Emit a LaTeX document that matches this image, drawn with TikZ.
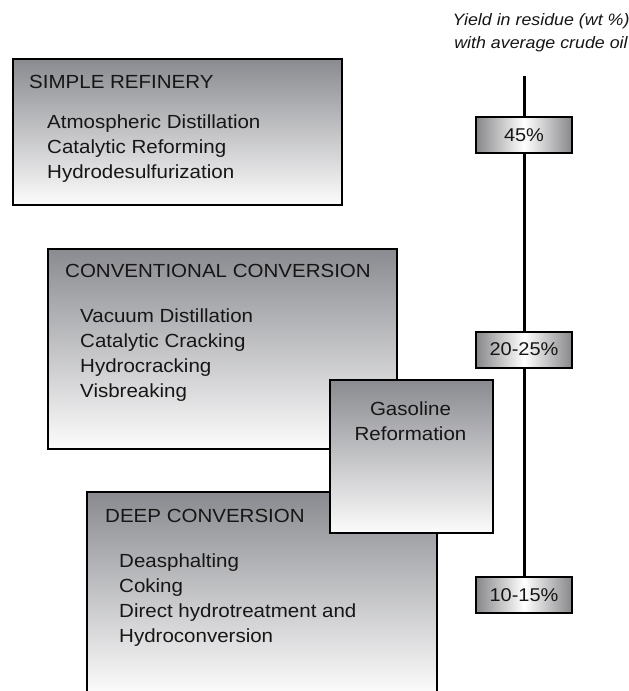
\documentclass[tikz,border=0pt]{standalone}
\usepackage{fontspec}
\setmainfont{Liberation Sans}[FakeStretch=1.08]
\definecolor{boxtop}{RGB}{138,139,144}
\definecolor{boxbot}{RGB}{252,252,252}
\definecolor{pctedge}{RGB}{135,135,138}
\definecolor{txt}{RGB}{22,22,22}
\pgfdeclarehorizontalshading{pctshade}{100bp}{color(0bp)=(pctedge); color(25bp)=(pctedge); color(50bp)=(white); color(75bp)=(pctedge); color(100bp)=(pctedge)}
\newcommand{\boxlines}[1]{\parbox[t]{330pt}{\raggedright #1}}
\newcommand{\centlines}[1]{\parbox[t]{200pt}{\centering #1}}
\begin{document}
\begin{tikzpicture}[x=1pt,y=-1pt,
  bigbox/.style={rectangle, draw=black, line width=2pt, inner sep=0pt, anchor=north west,
                 top color=boxtop, bottom color=boxbot},
  pctbox/.style={rectangle, draw=black, line width=2pt, inner sep=0pt,
                 minimum width=96pt, minimum height=36pt,
                 shading=pctshade,
                 text=txt, font=\fontsize{18.5}{22}\selectfont},
  boxtext/.style={inner sep=0pt, anchor=base west, text=txt, font=\fontsize{19}{25}\selectfont},
  headtext/.style={inner sep=0pt, anchor=base, text=txt, font=\fontsize{16.5}{23}\selectfont\itshape},
  axisline/.style={line width=3pt, black}]
\useasboundingbox (0,0) rectangle (629,691);

% yield axis
\node[headtext] (head) at (541,25) {\centlines{Yield in residue (wt \%)\\with average crude oil}};
\coordinate (axtop) at (524,76);
\node[pctbox] (p45) at (524,135) {45\%};
\node[pctbox] (p2025) at (524,349.5) {20-25\%};
\node[pctbox] (p1015) at (524,595) {10-15\%};
\draw[axisline] (axtop) -- (p45.north);
\draw[axisline] (p45.south) -- (p2025.north);
\draw[axisline] (p2025.south) -- (p1015.north);

% simple refinery
\node[bigbox, minimum width=329pt, minimum height=146pt] (simple) at (12,58) {};
\node[boxtext] (simpleh) at (29,88) {SIMPLE REFINERY};
\node[boxtext] (simplel) at (47,128) {\boxlines{Atmospheric Distillation\\Catalytic Reforming\\Hydrodesulfurization}};

% conventional conversion
\node[bigbox, minimum width=349pt, minimum height=200pt] (conv) at (47,248) {};
\node[boxtext] (convh) at (65,277) {CONVENTIONAL CONVERSION};
\node[boxtext] (convl) at (80,322) {\boxlines{Vacuum Distillation\\Catalytic Cracking\\Hydrocracking\\Visbreaking}};

% deep conversion (open at the bottom)
\node[bigbox, draw=none, minimum width=348pt, minimum height=201pt] (deep) at (87,492) {};
\draw[line width=2pt, black] (deep.south west) -- (deep.north west) -- (deep.north east) -- (deep.south east);
\node[boxtext] (deeph) at (105,522) {DEEP CONVERSION};
\node[boxtext] (deepl) at (119,567) {\boxlines{Deasphalting\\Coking\\Direct hydrotreatment and\\Hydroconversion}};

% gasoline reformation
\node[bigbox, minimum width=163pt, minimum height=153pt] (gas) at (329,379) {};
\node[boxtext, anchor=base] (gast) at (410.5,415) {\centlines{Gasoline\\Reformation}};
\end{tikzpicture}
\end{document}
